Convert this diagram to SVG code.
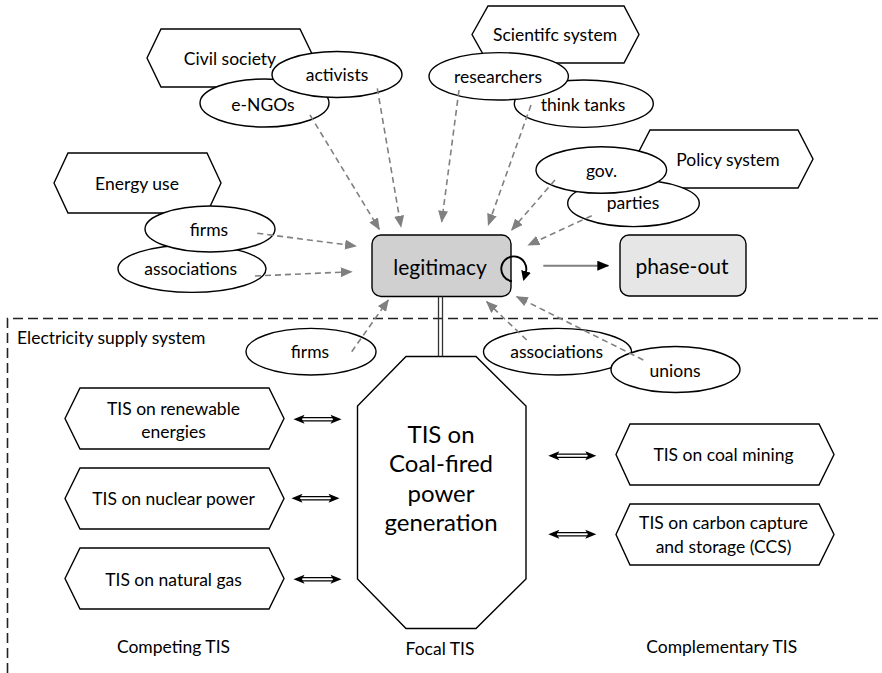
<svg xmlns="http://www.w3.org/2000/svg" width="882" height="673" viewBox="0 0 882 673">
<defs>
<style>
.shape{fill:#fff;stroke:#000;stroke-width:1.4}
.t{font-family:Lato,"Liberation Sans",sans-serif;font-size:17.5px;fill:#000;text-anchor:middle;dominant-baseline:central}
.dash{fill:none;stroke:#808080;stroke-width:1.6;stroke-dasharray:6 4}
.dl{stroke:#000;stroke-width:1.2}
</style>
<marker id="ga" markerUnits="userSpaceOnUse" markerWidth="12" markerHeight="10" viewBox="0 0 12 10" refX="11" refY="5" orient="auto">
<path d="M0,0 L12,5 L0,10 z" fill="#808080"/>
</marker>
<marker id="ba" markerUnits="userSpaceOnUse" markerWidth="12" markerHeight="10" viewBox="0 0 12 10" refX="11" refY="5" orient="auto">
<path d="M0,0 L12,5 L0,10 z" fill="#000"/>
</marker>
<marker id="la" markerUnits="userSpaceOnUse" markerWidth="10" markerHeight="10" viewBox="0 0 10 10" refX="1" refY="5" orient="auto">
<path d="M0,0 L10,5 L0,10 z" fill="#000"/>
</marker>
<g id="dbl">
<line class="dl" x1="7" y1="-1.6" x2="41" y2="-1.6"/>
<line class="dl" x1="7" y1="1.6" x2="41" y2="1.6"/>
<path d="M0,0 L11,-4.5 L8.5,0 L11,4.5 z" fill="#000"/>
<path d="M48,0 L37,-4.5 L39.5,0 L37,4.5 z" fill="#000"/>
</g>
</defs>
<rect width="882" height="673" fill="#fff"/>

<g id="frame">
<path d="M7.5,673 V318.5 H882" fill="none" stroke="#222" stroke-width="1.6" stroke-dasharray="10 5"/>
<text class="t" x="17" y="337.5" style="text-anchor:start">Electricity supply system</text>
</g>

<g id="civil-society">
<polygon class="shape" points="147,58 161,29 300,29 314,58 300,87 161,87"/>
<text class="t" x="230" y="58">Civil society</text>
</g>
<g id="e-ngos">
<ellipse class="shape" cx="264.5" cy="103" rx="64.5" ry="24"/>
<text class="t" x="263" y="104">e-NGOs</text>
</g>
<g id="activists">
<ellipse class="shape" cx="337" cy="74.5" rx="65" ry="23"/>
<text class="t" x="337" y="74">activists</text>
</g>

<g id="scientific-system">
<polygon class="shape" points="472,34.5 488,6 624,6 639,34.5 624,63 488,63"/>
<text class="t" x="555" y="34.5">Scientifc system</text>
</g>
<g id="think-tanks">
<ellipse class="shape" cx="583.8" cy="103.7" rx="69.5" ry="23.7"/>
<text class="t" x="583" y="104">think tanks</text>
</g>
<g id="researchers">
<ellipse class="shape" cx="498.7" cy="76.3" rx="69.7" ry="23.7"/>
<text class="t" x="498" y="76">researchers</text>
</g>

<g id="policy-system">
<polygon class="shape" points="635,159 650,130 798,130 813,159 798,188 650,188"/>
<text class="t" x="728" y="159">Policy system</text>
</g>
<g id="parties">
<ellipse class="shape" cx="633.5" cy="203.3" rx="65.8" ry="23.3"/>
<text class="t" x="633" y="202.5">parties</text>
</g>
<g id="gov">
<ellipse class="shape" cx="601.3" cy="170" rx="65.3" ry="23.3"/>
<text class="t" x="601.5" y="170.5">gov.</text>
</g>

<g id="energy-use">
<polygon class="shape" points="54,183 68,153 207,153 221,183 207,213 68,213"/>
<text class="t" x="137" y="183">Energy use</text>
</g>
<g id="associations-top">
<ellipse class="shape" cx="192" cy="268.7" rx="74" ry="23.7"/>
<text class="t" x="190.7" y="268">associations</text>
</g>
<g id="firms-top">
<ellipse class="shape" cx="210" cy="229" rx="65" ry="23"/>
<text class="t" x="209" y="229">firms</text>
</g>

<g id="legitimacy">
<rect x="372" y="235" width="139" height="61.5" rx="9" fill="#d0d0d0" stroke="#000" stroke-width="1.4"/>
<text class="t" x="440" y="266.5" style="font-size:21px">legitimacy</text>
</g>
<g id="phase-out">
<rect x="620" y="235" width="126" height="61" rx="9" fill="#e6e6e6" stroke="#000" stroke-width="1.4"/>
<text class="t" x="682" y="265.5" style="font-size:21px">phase-out</text>
</g>

<g id="firms-low">
<ellipse class="shape" cx="311" cy="351.7" rx="65" ry="23.3"/>
<text class="t" x="310" y="351.7">firms</text>
</g>
<g id="associations-low">
<ellipse class="shape" cx="557.5" cy="351.7" rx="74" ry="23.3"/>
<text class="t" x="556.7" y="351.7">associations</text>
</g>
<g id="unions">
<ellipse class="shape" cx="675.5" cy="369.5" rx="64.5" ry="23"/>
<text class="t" x="675" y="370">unions</text>
</g>

<g id="focal-tis">
<polygon class="shape" points="406,356.5 476,356.5 526,406 526,579 476,628.5 406,628.5 357.5,579 357.5,406"/>
<text class="t" style="font-size:24px" x="441" y="433">TIS on</text>
<text class="t" style="font-size:24px" x="441" y="462">Coal-fired</text>
<text class="t" style="font-size:24px" x="441" y="492.5">power</text>
<text class="t" style="font-size:24px" x="441" y="521.5">generation</text>
</g>

<g id="tis-renewable">
<polygon class="shape" points="65,418.5 80,388 269,388 284,418.5 269,449 80,449"/>
<text class="t" x="173.5" y="408.3">TIS on renewable</text>
<text class="t" x="173.5" y="431.7">energies</text>
</g>
<g id="tis-nuclear">
<polygon class="shape" points="65,498.5 80,468 269,468 284,498.5 269,529 80,529"/>
<text class="t" x="173.5" y="498.3">TIS on nuclear power</text>
</g>
<g id="tis-gas">
<polygon class="shape" points="65,578.5 80,548 269,548 284,578.5 269,609 80,609"/>
<text class="t" x="173.5" y="579.3">TIS on natural gas</text>
</g>
<g id="tis-coal-mining">
<polygon class="shape" points="616,454.5 630,424 819,424 834,454.5 819,485 630,485"/>
<text class="t" x="723.5" y="454.3">TIS on coal mining</text>
</g>
<g id="tis-ccs">
<polygon class="shape" points="616,534.5 630,504 819,504 834,534.5 819,565 630,565"/>
<text class="t" x="723.5" y="522.7">TIS on carbon capture</text>
<text class="t" x="723.5" y="546.7">and storage (CCS)</text>
</g>

<g id="labels">
<text class="t" x="173.5" y="646.7">Competing TIS</text>
<text class="t" x="440" y="648">Focal TIS</text>
<text class="t" x="721.7" y="646.7">Complementary TIS</text>
</g>

<g id="connectors">
<path class="dash" d="M310,115 L379.3,229.3" marker-end="url(#ga)"/>
<path class="dash" d="M377.3,88.3 L401,226.7" marker-end="url(#ga)"/>
<path class="dash" d="M459,90 L441.7,221.7" marker-end="url(#ga)"/>
<path class="dash" d="M531,105 L488.3,225" marker-end="url(#ga)"/>
<path class="dash" d="M555,180 L511.7,230" marker-end="url(#ga)"/>
<path class="dash" d="M591.7,215.7 L528.3,245" marker-end="url(#ga)"/>
<path class="dash" d="M257.3,233.3 L356,246" marker-end="url(#ga)"/>
<path class="dash" d="M255,276 L351.7,271.7" marker-end="url(#ga)"/>
<path class="dash" d="M351.7,351.7 L388.3,300" marker-end="url(#ga)"/>
<path class="dash" d="M526.7,340 L486.7,301.7" marker-end="url(#ga)"/>
<path class="dash" d="M643.3,360 L516.7,296.7" marker-end="url(#ga)"/>
<path d="M543.3,265.7 L608.3,265.7" stroke="#808080" stroke-width="2" fill="none" marker-end="url(#ba)"/>
<path d="M511.9,281.3 A12.5,12.5 0 1 1 525.8,272.4" stroke="#000" stroke-width="1.9" fill="none" marker-end="url(#la)"/>
<line x1="438.5" y1="296.5" x2="438.5" y2="356.5" stroke="#333" stroke-width="1.3"/>
<line x1="442.5" y1="296.5" x2="442.5" y2="356.5" stroke="#333" stroke-width="1.3"/>
<use href="#dbl" transform="translate(293.5,419.3)"/>
<use href="#dbl" transform="translate(291.5,498.3)"/>
<use href="#dbl" transform="translate(293.5,579.3)"/>
<use href="#dbl" transform="translate(548.3,455.7)"/>
<use href="#dbl" transform="translate(548.3,534.3)"/>
</g>
</svg>
